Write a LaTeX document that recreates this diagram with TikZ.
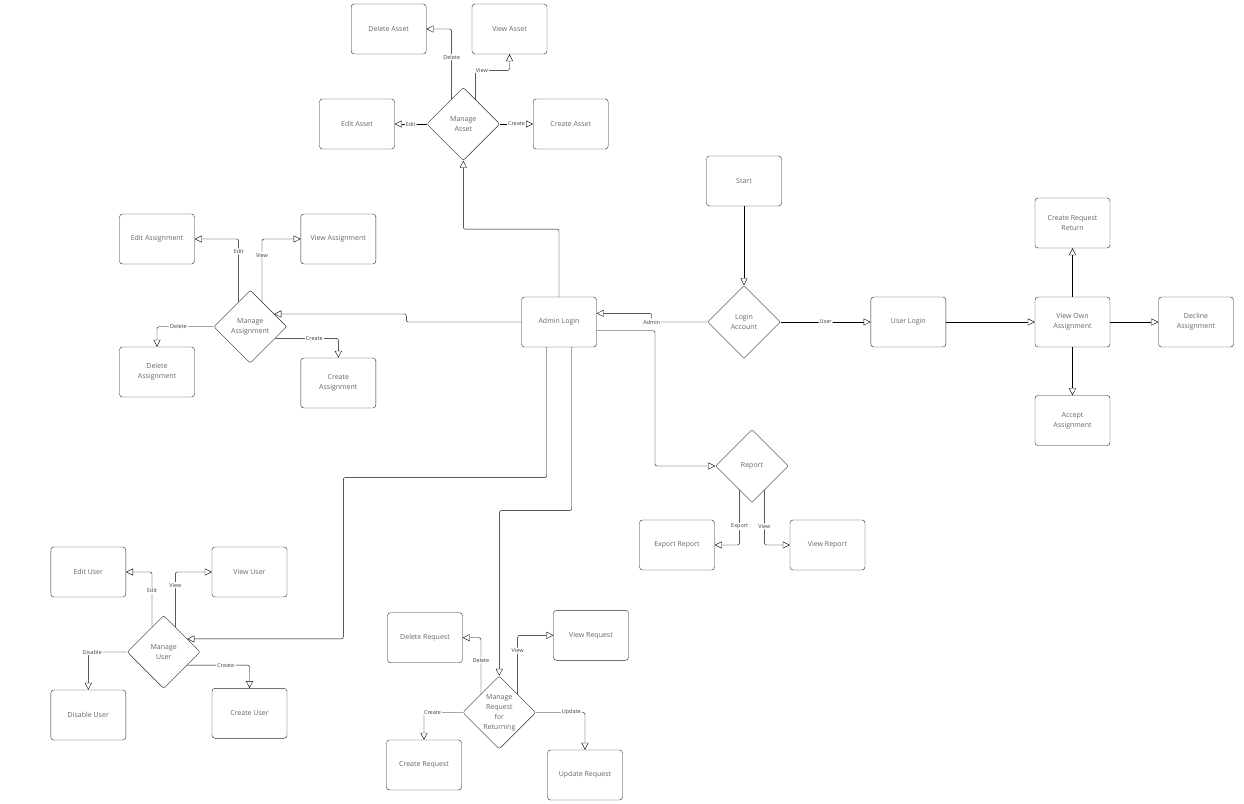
\documentclass[tikz,border=0pt]{standalone}
\usepackage{fontspec}
\setmainfont{Open Sans}
\usetikzlibrary{arrows.meta,shapes.geometric}
\tikzset{> = {Triangle[open,length=7pt,width=7pt]}, line width=1.2pt}
\tikzset{box/.style={draw=black!85,rounded corners=3pt,minimum width=75pt,minimum height=50pt,align=center,font=\fontsize{7}{10}\selectfont,text=black!60}}
\tikzset{choice/.style={draw=black!85,diamond,rounded corners=2pt,minimum width=73pt,minimum height=73pt,inner sep=0pt,align=center,font=\fontsize{7}{10}\selectfont,text=black!60}}
\tikzset{lbl/.style={fill=white,inner sep=1pt,font=\fontsize{5.5}{6}\selectfont,text=black!75}}
\tikzset{link/.style={->,rounded corners=2pt}}

\begin{document}
\begin{tikzpicture}[x=1pt,y=-1pt]
		\useasboundingbox (0,0) rectangle (1244,803);
		% login
		\node[box] (start) at (744,181) {Start};
		\node[choice] (login) at (744,322) {Login\\Account};
		\node[box] (admin) at (559,322) {Admin Login};
		\node[box] (ulog) at (908.3,322) {User Login};
		\draw[link] (start) -- (login);
		\draw[link] (login.west) -- ++(-55.6,0) node[lbl]{Admin} |- ([yshift=8.7pt]admin.east);
		\draw[link] (login) -- node[lbl]{User} (ulog);
		% user side
		\node[box] (vown) at (1072.5,322) {View Own\\Assignment};
		\node[box] (crr) at (1072.5,223) {Create Request\\Return};
		\node[box] (acc) at (1072.5,420.5) {Accept\\Assignment};
		\node[box] (dec) at (1196,322) {Decline\\Assignment};
		\draw[link] (ulog) -- (vown);
		\draw[link] (vown) -- (crr);
		\draw[link] (vown) -- (acc);
		\draw[link] (vown) -- (dec);
		% asset
		\node[choice] (mast) at (463.3,124) {Manage\\Asset};
		\node[box] (dast) at (388.7,29) {Delete Asset};
		\node[box] (vast) at (509.5,29) {View Asset};
		\node[box] (east) at (357,124) {Edit Asset};
		\node[box] (cast) at (570.7,124) {Create Asset};
		\draw[link] (admin.north) -- ++(0,-67.7) -| (mast);
		\draw[link] (mast.115) |- node[lbl,pos=0.3]{Delete} (dast);
		\draw[link] (mast.63) -- ++(0,-29.3) node[lbl,right=-1pt]{View} -| (vast);
		\draw[link] (mast) -- node[lbl]{Edit} (east);
		\draw[link] (mast) -- node[lbl]{Create} (cast);
		% assignment
		\node[choice] (masg) at (250.3,326.7) {Manage\\Assignment};
		\node[box] (easg) at (157,239) {Edit Assignment};
		\node[box] (vasg) at (338.3,239) {View Assignment};
		\node[box] (dasg) at (157,372) {Delete\\Assignment};
		\node[box] (casg) at (338.3,383) {Create\\Assignment};
		\draw[link] (admin.west) -- ++(-115,0) |- (masg.28);
		\draw[link] (masg.115) |- node[lbl,pos=0.4]{Edit} (easg);
		\draw[link] (masg.65) |- node[lbl,pos=0.37]{View} (vasg);
		\draw[link] (masg) -| node[lbl,pos=0.31]{Delete} (dasg);
		\draw[link] (masg.-25) -| node[lbl,pos=0.31]{Create} (casg);
		% report
		\node[choice] (report) at (752,466) {Report};
		\node[box] (export) at (677,545) {Export Report};
		\node[box] (vrep) at (827.5,545) {View Report};
		\draw[link] ([yshift=-8.7pt]admin.east) -- ++(58.3,0) |- (report);
		\draw[link] (report.243) |- node[lbl,pos=0.33]{Export} (export);
		\draw[link] (report.297) |- node[lbl,pos=0.33]{View} (vrep);
		% user
		\node[choice] (musr) at (163.7,652) {Manage\\User};
		\node[box] (eusr) at (88.3,572) {Edit User};
		\node[box] (vusr) at (249.5,572) {View User};
		\node[box] (dusr) at (88.3,715) {Disable User};
		\node[box] (cusr) at (249.5,713.3) {Create User};
		\draw[link] ([xshift=-12.3pt]admin.south) -- ++(0,130.4) -- ++(-203.4,0) |- (musr.29);
		\draw[link] (musr.115) |- node[lbl,pos=0.33]{Edit} (eusr);
		\draw[link] (musr.65) |- node[lbl,pos=0.38]{View} (vusr);
		\draw[link] (musr) -| node[lbl,pos=0.45]{Disable} (dusr);
		\draw[link] (musr.-29) -| node[lbl,pos=0.31]{Create} (cusr);
		% request
		\node[choice] (mreq) at (499.3,712.5) {Manage\\Request\\for\\Returning};
		\node[box] (dreq) at (425,637.7) {Delete Request};
		\node[box] (vreq) at (591,635.3) {View Request};
		\node[box] (creq) at (424,765) {Create Request};
		\node[box] (ureq) at (585,775) {Update Request};
		\draw[link] ([xshift=12.7pt]admin.south) -- ++(0,163.4) -| (mreq);
		\draw[link] (mreq.135) |- node[lbl,pos=0.3]{Delete} (dreq);
		\draw[link] (mreq.45) |- node[lbl,pos=0.37]{View} (vreq);
		\draw[link] (mreq) -| node[lbl,pos=0.39]{Create} (creq);
		\draw[link] (mreq) -| node[lbl,pos=0.36]{Update} (ureq);
\end{tikzpicture}
\end{document}
